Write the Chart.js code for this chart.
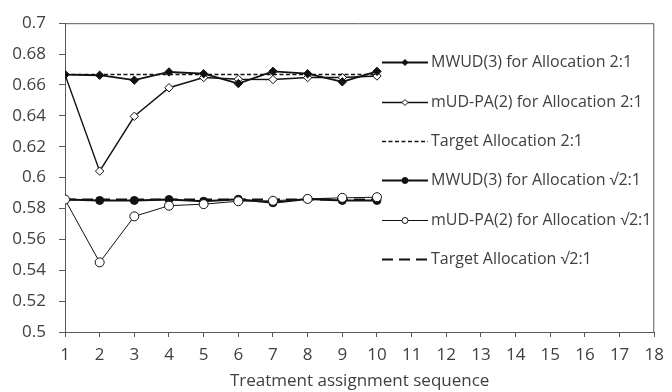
<!DOCTYPE html>
<html>
<head>
<meta charset="utf-8">
<script src="https://cdn.jsdelivr.net/npm/chart.js@4/dist/chart.umd.min.js"></script>
<style>
  html, body { margin: 0; padding: 0; background: #fff; }
  #wrap { width: 672px; height: 392px; position: relative; }
</style>
</head>
<body>
<div id="wrap"><canvas id="c" width="672" height="392"></canvas></div>
<script>
const sequence = [1, 2, 3, 4, 5, 6, 7, 8, 9, 10];
const mwud21   = [0.6667, 0.6663, 0.6631, 0.6684, 0.6673, 0.6609, 0.6688, 0.6673, 0.6620, 0.6688];
const mudpa21  = [0.6667, 0.6042, 0.6397, 0.6582, 0.6648, 0.6637, 0.6635, 0.6648, 0.6648, 0.6658];
const target21 = [0.6667, 0.6667, 0.6667, 0.6667, 0.6667, 0.6667, 0.6667, 0.6667, 0.6667, 0.6667];
const mwudS    = [0.5858, 0.5852, 0.5852, 0.5858, 0.5847, 0.5860, 0.5837, 0.5862, 0.5852, 0.5852];
const mudpaS   = [0.5858, 0.5451, 0.5749, 0.5818, 0.5828, 0.5847, 0.5850, 0.5862, 0.5869, 0.5873];
const targetS  = [0.5858, 0.5858, 0.5858, 0.5858, 0.5858, 0.5858, 0.5858, 0.5858, 0.5858, 0.5858];
const seriesNames = [
  "MWUD(3) for Allocation 2:1",
  "mUD-PA(2) for Allocation 2:1",
  "Target Allocation 2:1",
  "MWUD(3) for Allocation \u221A2:1",
  "mUD-PA(2) for Allocation \u221A2:1",
  "Target Allocation \u221A2:1"
];
const xAxisTitle = "Treatment assignment sequence";
const xMin = 1, xMax = 18, yMin = 0.5, yMax = 0.7;

const FONT = "'Open Sans'";
const FS = 17;
const LFS = 16;
const TXT = "#404040";
const AX = "#595959";

function pts(arr) { return arr.map((v, i) => ({ x: sequence[i], y: v })); }

const datasets = [
  { label: seriesNames[0], data: pts(mwud21), borderColor: "#111", backgroundColor: "#111", borderWidth: 1.8,
    pointStyle: "rectRot", pointRadius: 4.2, pointBorderWidth: 1, pointBorderColor: "#111", pointBackgroundColor: "#111", order: 2 },
  { label: seriesNames[1], data: pts(mudpa21), borderColor: "#111", backgroundColor: "#fff", borderWidth: 1.4,
    pointStyle: "rectRot", pointRadius: 4.2, pointBorderWidth: 1, pointBorderColor: "#111", pointBackgroundColor: "#fff", order: 3 },
  { label: seriesNames[2], data: pts(target21), borderColor: "#111", borderWidth: 1.5, borderDash: [4, 2.5],
    pointRadius: 0, order: 1 },
  { label: seriesNames[3], data: pts(mwudS), borderColor: "#111", backgroundColor: "#111", borderWidth: 2,
    pointStyle: "circle", pointRadius: 4, pointBorderWidth: 1, pointBorderColor: "#111", pointBackgroundColor: "#111", order: 5 },
  { label: seriesNames[4], data: pts(mudpaS), borderColor: "#111", backgroundColor: "#fff", borderWidth: 1,
    pointStyle: "circle", pointRadius: 4.5, pointBorderWidth: 1, pointBorderColor: "#111", pointBackgroundColor: "#fff", order: 4 },
  { label: seriesNames[5], data: pts(targetS), borderColor: "#111", borderWidth: 2, borderDash: [11, 6],
    pointRadius: 0, order: 6 }
];

const frame = {
  id: "frame",
  afterDraw(chart) {
    const { ctx, chartArea: a } = chart;
    ctx.save();
    ctx.strokeStyle = AX;
    ctx.lineWidth = 1;
    ctx.beginPath();
    ctx.moveTo(a.left, a.top + 0.5);
    ctx.lineTo(a.right - 0.5, a.top + 0.5);
    ctx.lineTo(a.right - 0.5, a.bottom);
    ctx.stroke();
    ctx.restore();
  }
};

const inLegend = {
  id: "inLegend",
  afterDraw(chart) {
    const { ctx, chartArea: a } = chart;
    const rowOffsets = [39, 78.5, 117.5, 157, 196.5, 236];
    const x0 = 382, x1 = 428, xm = 405, xt = 431;
    ctx.save();
    chart.data.datasets.forEach((ds, i) => {
      const y = Math.round(a.top + rowOffsets[i]) + 0.5;
      ctx.strokeStyle = ds.borderColor;
      ctx.lineWidth = ds.borderWidth;
      ctx.setLineDash(ds.borderDash || []);
      ctx.beginPath();
      ctx.moveTo(x0, y);
      ctx.lineTo(x1, y);
      ctx.stroke();
      ctx.setLineDash([]);
      if (ds.pointRadius > 0) {
        ctx.fillStyle = ds.pointBackgroundColor;
        ctx.strokeStyle = ds.pointBorderColor;
        ctx.lineWidth = ds.pointBorderWidth;
        Chart.helpers.drawPoint(ctx, { pointStyle: ds.pointStyle, radius: 3, rotation: 0, borderWidth: ds.pointBorderWidth }, xm, y);
      }
      ctx.fillStyle = TXT;
      ctx.font = LFS + "px " + FONT;
      ctx.textBaseline = "middle";
      ctx.textAlign = "left";
      ctx.fillText(ds.label, xt, y);
    });
    ctx.restore();
  }
};

new Chart(document.getElementById("c"), {
  type: "line",
  data: { datasets },
  plugins: [frame, inLegend],
  options: {
    responsive: false,
    animation: false,
    devicePixelRatio: 1,
    layout: { padding: { left: 0, right: 12, top: 19, bottom: 0 } },
    plugins: { legend: { display: false }, tooltip: { enabled: false } },
    scales: {
      x: {
        type: "linear", min: xMin, max: xMax,
        afterFit(s) { s.height = 60; },
        ticks: { stepSize: 1, color: TXT, font: { family: FONT, size: FS }, padding: 8, maxRotation: 0, autoSkip: false },
        grid: { drawOnChartArea: false, drawTicks: true, tickLength: 5, color: AX },
        border: { display: true, color: AX, width: 1 },
        title: { display: true, text: xAxisTitle, color: TXT, font: { family: FONT, size: FS }, padding: { top: 0, bottom: 1 } }
      },
      y: {
        type: "linear", min: yMin, max: yMax,
        afterFit(s) { s.width = 65; },
        ticks: { stepSize: 0.02, color: TXT, font: { family: FONT, size: FS }, padding: 13,
          callback: v => String(Number(v.toFixed(2))) },
        grid: { drawOnChartArea: false, drawTicks: true, tickLength: 6, color: AX },
        border: { display: true, color: AX, width: 1 }
      }
    }
  }
});
</script>
</body>
</html>
